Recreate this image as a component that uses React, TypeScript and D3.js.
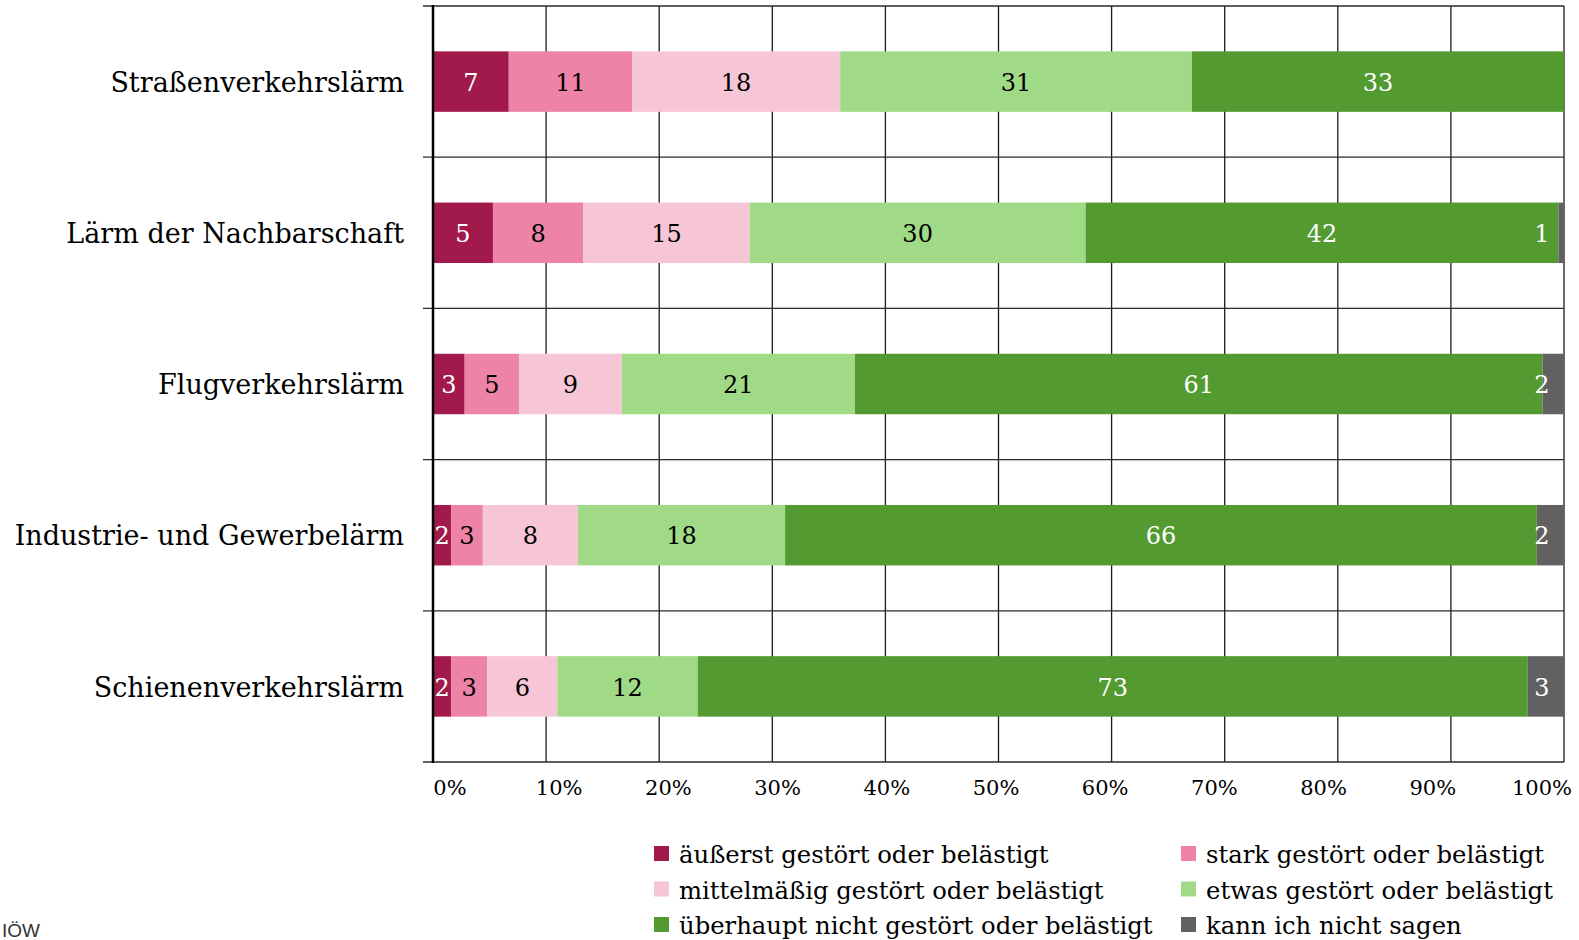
import { useMemo } from 'react';
import * as d3 from "d3";

// survey data: share of respondents (%)
const categories = ["Straßenverkehrslärm", "Lärm der Nachbarschaft", "Flugverkehrslärm", "Industrie- und Gewerbelärm", "Schienenverkehrslärm"];
const seriesNames = ["äußerst gestört oder belästigt", "stark gestört oder belästigt", "mittelmäßig gestört oder belästigt", "etwas gestört oder belästigt", "überhaupt nicht gestört oder belästigt", "kann ich nicht sagen"];
const aeusserst = [6.7, 5.3, 2.8, 1.6, 1.6];
const stark = [10.9, 8.0, 4.8, 2.8, 3.2];
const mittel = [18.4, 14.7, 9.1, 8.4, 6.2];
const etwas = [31.1, 29.7, 20.6, 18.3, 12.4];
const ueberhaupt = [32.9, 41.8, 60.8, 66.4, 73.4];
const weissNicht = [0, 0.5, 1.9, 2.4, 3.2];
const xTicks = [0, 10, 20, 30, 40, 50, 60, 70, 80, 90, 100];

const colors = ["#A21A4B", "#EE82A7", "#F6C5D6", "#A1DA87", "#539A31", "#616161"];
const textColors = ["#fff", "#000", "#000", "#000", "#fff", "#fff"];

const FONT = "'DejaVu Serif', serif";

const App = () => {
  const W = 1579, H = 940;
  const x0 = 433, x1 = 1564, yTop = 6, yBot = 762;

  const x = d3.scaleLinear().domain([0, 1]).range([x0, x1]);
  // tick labels sit on a slightly narrower spread than the gridlines
  const xLab = d3.scaleLinear().domain([0, 100]).range([450, 1542]);
  const y = d3.scaleBand().domain(categories).range([yTop, yBot]).paddingInner(0.6).paddingOuter(0.3);

  const rows = useMemo(() => categories.map((c, i) => {
    const r: any = { cat: c };
    const all = [aeusserst, stark, mittel, etwas, ueberhaupt, weissNicht];
    seriesNames.forEach((s, k) => { r[s] = all[k][i]; });
    return r;
  }), []);

  const stacked = d3.stack<any>().keys(seriesNames).offset(d3.stackOffsetExpand)(rows);
  const step = y.step();
  const bounds = d3.range(categories.length + 1).map(i => yTop + i * step);

  return (
    <svg width={W} height={H} style={{ position: "absolute", left: 0, top: 0, background: "#fff" }}>
      {/* vertical gridlines */}
      {xTicks.slice(1).map(t => (
        <line key={"v" + t} x1={x(t / 100)} x2={x(t / 100)} y1={yTop} y2={yBot} stroke="#1a1a1a" strokeWidth={1.3} />
      ))}
      {/* horizontal lines between categories */}
      {bounds.map((b, i) => (
        <line key={"h" + i} x1={x0 - 10} x2={x1} y1={b} y2={b} stroke="#2a2a2a" strokeWidth={1.3} />
      ))}
      {stacked.map((s, k) => (
        <g key={s.key} fill={colors[k]}>
          {s.map((d, i) => {
            const val = (s[i].data as any)[s.key] as number;
            if (!val) return null;
            const xa = x(d[0]), xb = x(d[1]);
            // labels near the right edge are pulled back inside the plot
            const lx = Math.min((xa + xb) / 2, x1 - 22);
            return (
              <g key={i}>
                <rect x={xa} y={y(categories[i])} width={xb - xa} height={y.bandwidth()} />
                <text x={lx} y={(y(categories[i]) as number) + y.bandwidth() / 2} dy="0.38em"
                  textAnchor="middle" fill={textColors[k]} fontFamily={FONT} fontSize={24}>
                  {d3.format(".0f")(val)}
                </text>
              </g>
            );
          })}
        </g>
      ))}
      {/* left axis */}
      <line x1={x0} x2={x0} y1={yTop - 1} y2={yBot + 1} stroke="#000" strokeWidth={2.5} />
      {categories.map(c => (
        <text key={c} x={404} y={(y(c) as number) + y.bandwidth() / 2} dy="0.38em" textAnchor="end"
          fontFamily={FONT} fontSize={27} fill="#000">{c}</text>
      ))}
      {xTicks.map(t => (
        <text key={"t" + t} x={xLab(t)} y={795} textAnchor="middle" fontFamily={FONT} fontSize={21} fill="#000">{t}%</text>
      ))}
      {/* legend */}
      {seriesNames.map((s, k) => {
        const col = k % 2, row = Math.floor(k / 2);
        const lx = col === 0 ? 654 : 1181;
        const ly = 854 + row * 35.5;
        return (
          <g key={s}>
            <rect x={lx} y={ly - 8} width={15} height={15} fill={colors[k]} />
            <text x={lx + 25} y={ly} dy="0.38em" fontFamily={FONT} fontSize={24.3} fill="#000">{s}</text>
          </g>
        );
      })}
      <text x={2} y={937} fontFamily="'Liberation Sans', sans-serif" fontSize={19} fill="#333">IÖW</text>
    </svg>
  );
};

export default App;
